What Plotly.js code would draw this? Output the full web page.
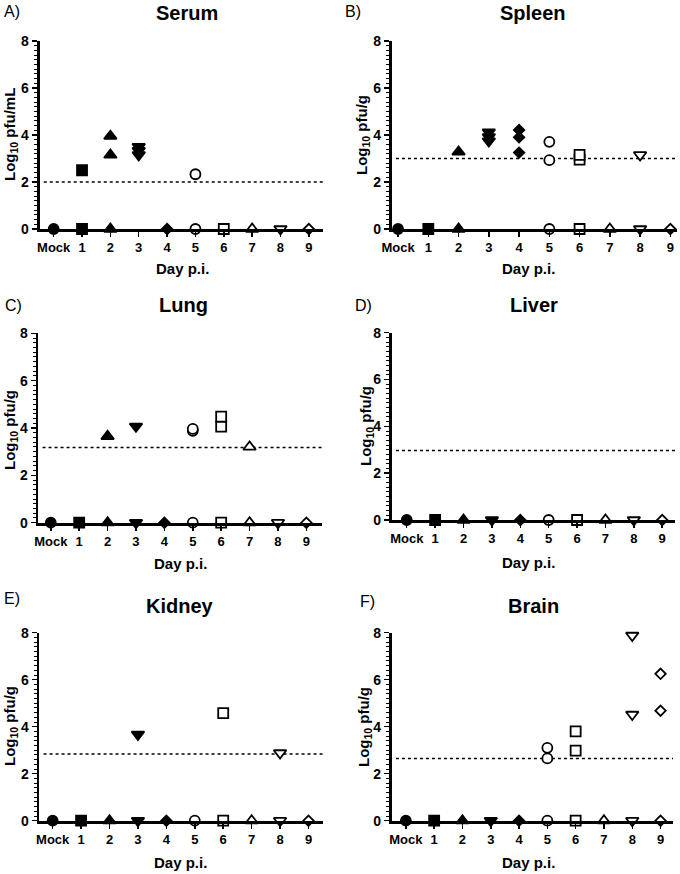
<!DOCTYPE html>
<html>
<head>
<meta charset="utf-8">
<script src="https://cdn.plot.ly/plotly-3.0.1.min.js"></script>
<style>
  body { margin: 0; background: #fff; }
  #chart { width: 680px; height: 874px; }
</style>
</head>
<body>
<div id="chart"></div>
<script>
// categories on the x axis
var days = ["Mock", "1", "2", "3", "4", "5", "6", "7", "8", "9"];
var daySymbols = ["circle", "square", "triangle-up", "triangle-down", "diamond",
                  "circle", "square", "triangle-up", "triangle-down", "diamond"];
var dayFilled = [true, true, true, true, true, false, false, false, false, false];

// log10 titres, one list per day
var serum  = [[0], [0, 2.5], [0, 3.15, 3.95], [3.5, 3.33, 3.15], [0], [0, 2.33], [0], [0], [0], [0]];
var spleen = [[0], [0], [0, 3.28], [4.12, 3.92, 3.74], [4.21, 3.9, 3.25], [0, 2.93, 3.71], [0, 2.95, 3.15], [0], [0, 3.15], [0]];
var lung   = [[0], [0], [0, 3.65], [0, 4.07], [0], [0, 3.88, 3.96], [0, 4.06, 4.48], [0, 3.2], [0], [0]];
var liver  = [[0], [0], [0], [0], [0], [0], [0], [0], [0], [0]];
var kidney = [[0], [0], [0], [0, 3.67], [0], [0], [0, 4.58], [0], [0, 2.88], [0]];
var brain  = [[0], [0], [0], [0], [0], [0, 2.65, 3.1], [0, 2.98, 3.8], [0], [0, 4.52, 7.88], [0, 4.68, 6.25]];

// detection limits (dotted lines)
var limits = [2.0, 3.0, 3.18, 2.97, 2.84, 2.65];

var organs = ["Serum", "Spleen", "Lung", "Liver", "Kidney", "Brain"];
var letters = ["A)", "B)", "C)", "D)", "E)", "F)"];
var units = ["Log<sub>10</sub> pfu/mL", "Log<sub>10</sub> pfu/g", "Log<sub>10</sub> pfu/g",
             "Log<sub>10</sub> pfu/g", "Log<sub>10</sub> pfu/g", "Log<sub>10</sub> pfu/g"];
var panelData = [serum, spleen, lung, liver, kidney, brain];

// panel geometry in pixels
var W = 680, H = 874;
var boxes = [
  {x0: 39.5, x1: 323, y0: 41, y1: 229, range: [-0.5, 9.5]},
  {x0: 391.7, x1: 676.7, y0: 41, y1: 229, range: [-0.21, 9.21]},
  {x0: 38.3, x1: 321.7, y0: 333.3, y1: 522.7, range: [-0.44, 9.54]},
  {x0: 391.7, x1: 675, y0: 332.7, y1: 520, range: [-0.53, 9.45]},
  {x0: 39.3, x1: 322.7, y0: 632.7, y1: 820.7, range: [-0.47, 9.5]},
  {x0: 391.7, x1: 673, y0: 632.7, y1: 820.7, range: [-0.5, 9.44]}
];
var titlePos = [[187, 13], [533, 13], [183, 305], [534, 305], [180, 606], [533, 606]];
var letterPos = [[2, 12], [343, 12], [3, 305], [353, 305], [2, 598], [358, 601]];
var yTitlePos = [[10, 135], [362, 135], [10, 430], [366, 426], [10, 726], [364, 727]];
var xTitlePos = [[182, 268], [528, 268], [180, 563], [528, 562], [180, 862], [528, 862]];

var fontFam = "Liberation Sans, Arial, sans-serif";
var traces = [];
var shapes = [];
var annotations = [];
var layout = {
  width: W, height: H,
  margin: {l: 0, r: 0, t: 0, b: 0},
  paper_bgcolor: "white", plot_bgcolor: "white",
  showlegend: false,
  font: {family: fontFam, color: "black"}
};

function px(x) { return x / W; }
function py(y) { return 1 - y / H; }

for (var p = 0; p < 6; p++) {
  var sfx = p === 0 ? "" : String(p + 1);
  var xs = [], ys = [], syms = [], cols = [];
  panelData[p].forEach(function(vals, d) {
    vals.forEach(function(v) {
      xs.push(d);
      ys.push(v);
      syms.push(daySymbols[d]);
      cols.push(dayFilled[d] ? "black" : "white");
    });
  });
  var sizes = syms.map(function(s) {
    if (s === "diamond") return 8;
    if (s.indexOf("triangle") === 0) return 11;
    return 10;
  });
  traces.push({
    x: xs, y: ys,
    xaxis: "x" + sfx, yaxis: "y" + sfx,
    type: "scatter", mode: "markers",
    cliponaxis: false,
    marker: {symbol: syms, color: cols, size: sizes, opacity: 1,
             line: {color: "black", width: 1.8}},
    hoverinfo: "skip"
  });

  var b = boxes[p];
  layout["xaxis" + sfx] = {
    domain: [px(b.x0), px(b.x1)],
    anchor: "y" + sfx,
    range: b.range,
    tickmode: "array",
    tickvals: days.map(function(d, i) { return i; }),
    ticktext: days,
    ticks: "outside", ticklen: 5, tickwidth: 1.5, tickcolor: "black",
    showline: true, linewidth: 2.8, linecolor: "black",
    showgrid: false, zeroline: false,
    tickfont: {family: fontFam, size: 13, weight: "bold", color: "black"},
    fixedrange: true
  };
  layout["yaxis" + sfx] = {
    domain: [py(b.y1), py(b.y0)],
    anchor: "x" + sfx,
    range: [0, 8],
    tick0: 0, dtick: 2,
    ticks: "outside", ticklen: 5, tickwidth: 1.5, tickcolor: "black",
    minor: {dtick: 0.2, ticks: "outside", ticklen: 3, tickwidth: 1, tickcolor: "black"},
    showline: true, linewidth: 2.8, linecolor: "black",
    showgrid: false, zeroline: false,
    tickfont: {family: fontFam, size: 14, weight: "bold", color: "black"},
    fixedrange: true
  };

  shapes.push({
    type: "line", layer: "below",
    xref: "x" + sfx + " domain", yref: "y" + sfx,
    x0: 0.015, x1: 1, y0: limits[p], y1: limits[p],
    line: {color: "black", width: 1.5, dash: "dot"}
  });

  annotations.push({
    text: "<b>" + organs[p] + "</b>", xref: "paper", yref: "paper",
    x: px(titlePos[p][0]), y: py(titlePos[p][1]),
    xanchor: "center", yanchor: "middle", showarrow: false,
    font: {family: fontFam, size: 20, color: "black"}
  });
  annotations.push({
    text: letters[p], xref: "paper", yref: "paper",
    x: px(letterPos[p][0]), y: py(letterPos[p][1]),
    xanchor: "left", yanchor: "middle", showarrow: false,
    font: {family: fontFam, size: 16, color: "black"}
  });
  annotations.push({
    text: "<b>" + units[p] + "</b>", xref: "paper", yref: "paper",
    x: px(yTitlePos[p][0]), y: py(yTitlePos[p][1]),
    xanchor: "center", yanchor: "middle", textangle: -90, showarrow: false,
    font: {family: fontFam, size: 15, color: "black"}
  });
  annotations.push({
    text: "<b>Day p.i.</b>", xref: "paper", yref: "paper",
    x: px(xTitlePos[p][0]), y: py(xTitlePos[p][1]),
    xanchor: "center", yanchor: "middle", showarrow: false,
    font: {family: fontFam, size: 15, color: "black"}
  });
}

layout.shapes = shapes;
layout.annotations = annotations;

Plotly.newPlot("chart", traces, layout, {displayModeBar: false, staticPlot: true});
</script>
</body>
</html>
